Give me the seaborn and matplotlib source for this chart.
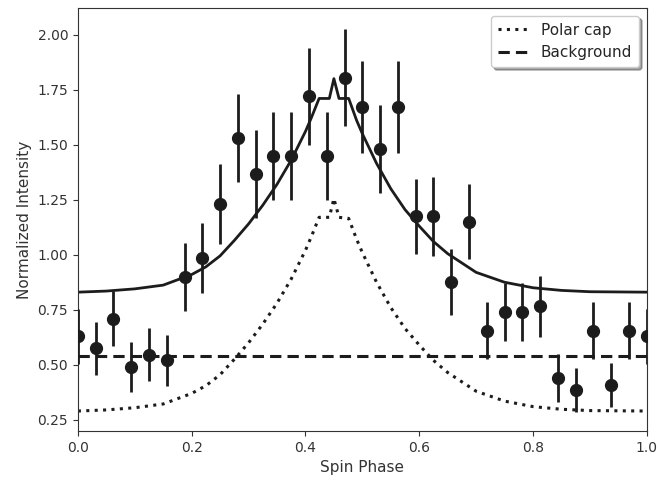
import numpy as np
import pandas as pd
import matplotlib
matplotlib.use("Agg")
import matplotlib.pyplot as plt
import seaborn as sns

# Observed data (spin phase bins)
phase = [0.0, 0.03125, 0.0625, 0.09375, 0.125, 0.15625, 0.1875, 0.21875,
         0.25, 0.28125, 0.3125, 0.34375, 0.375, 0.40625, 0.4375, 0.46875,
         0.5, 0.53125, 0.5625, 0.59375, 0.625, 0.65625, 0.6875, 0.71875,
         0.75, 0.78125, 0.8125, 0.84375, 0.875, 0.90625, 0.9375, 0.96875, 1.0]
intensity = [0.63, 0.575, 0.71, 0.49, 0.545, 0.52, 0.90, 0.985,
             1.23, 1.53, 1.365, 1.45, 1.45, 1.72, 1.45, 1.805,
             1.67, 1.48, 1.67, 1.175, 1.175, 0.875, 1.15, 0.655,
             0.74, 0.74, 0.765, 0.44, 0.385, 0.655, 0.41, 0.655, 0.63]
errors = [0.125, 0.12, 0.125, 0.115, 0.12, 0.115, 0.155, 0.16,
          0.18, 0.20, 0.20, 0.20, 0.20, 0.22, 0.20, 0.22,
          0.21, 0.20, 0.21, 0.17, 0.18, 0.15, 0.17, 0.13,
          0.13, 0.13, 0.14, 0.11, 0.10, 0.13, 0.10, 0.13, 0.125]

# Model curves
model_phase = [0.0, 0.05, 0.1, 0.15, 0.2, 0.225, 0.25, 0.275, 0.3, 0.325,
               0.35, 0.375, 0.4, 0.41, 0.424, 0.442, 0.45, 0.459, 0.476,
               0.49, 0.5, 0.525, 0.55, 0.575, 0.6, 0.625, 0.65, 0.7, 0.75,
               0.8, 0.85, 0.9, 1.0]
polar_cap = [0.29, 0.295, 0.305, 0.322, 0.37, 0.405, 0.455, 0.525, 0.60, 0.685,
             0.78, 0.89, 1.02, 1.08, 1.17, 1.17, 1.255, 1.17, 1.165,
             1.07, 1.01, 0.875, 0.76, 0.665, 0.59, 0.52, 0.465, 0.38, 0.335,
             0.31, 0.298, 0.292, 0.29]
total_model = [0.83, 0.835, 0.845, 0.862, 0.91, 0.945, 0.995, 1.065, 1.14, 1.225,
               1.32, 1.43, 1.56, 1.62, 1.71, 1.71, 1.80, 1.71, 1.71,
               1.61, 1.55, 1.415, 1.30, 1.205, 1.13, 1.06, 1.005, 0.92, 0.875,
               0.85, 0.838, 0.832, 0.83]
background_level = 0.54

sns.set_style("ticks")
plt.rcParams["font.family"] = ["DejaVu Sans"]

fig = plt.figure(figsize=(6.6, 4.83), dpi=100)
ax = fig.add_axes([0.118, 0.108, 0.862, 0.875])

dark = "#1c1c1c"
model_df = pd.DataFrame({"phase": model_phase, "cap": polar_cap, "total": total_model})
bg_df = pd.DataFrame({"phase": [0.0, 1.0], "bg": [background_level, background_level]})

sns.lineplot(data=model_df, x="phase", y="total", ax=ax, color=dark, lw=2.0,
             estimator=None, sort=False)
sns.lineplot(data=model_df, x="phase", y="cap", ax=ax, color=dark, lw=2.2,
             dashes=False, estimator=None, sort=False, label="Polar cap")
sns.lineplot(data=bg_df, x="phase", y="bg", ax=ax, color=dark, lw=2.2,
             estimator=None, label="Background")
lines = ax.get_lines()
lines[1].set_dashes((1.0, 1.75))
lines[2].set_dashes((3.7, 2.0))

ax.errorbar(phase, intensity, yerr=errors, fmt="o", color=dark, ms=8.5,
            elinewidth=2.0, capsize=0, zorder=5, clip_on=True)

ax.set_xlim(0.0, 1.0)
ax.set_ylim(0.2, 2.12)
ax.set_xticks([0.0, 0.2, 0.4, 0.6, 0.8, 1.0])
ax.set_yticks([0.25, 0.5, 0.75, 1.0, 1.25, 1.5, 1.75, 2.0])
ax.set_yticklabels(["0.25", "0.50", "0.75", "1.00", "1.25", "1.50", "1.75", "2.00"])
ax.tick_params(labelsize=10, colors="#333333")
ax.set_xlabel("Spin Phase", fontsize=11, color="#333333")
ax.set_ylabel("Normalized Intensity", fontsize=11, color="#333333")
for s in ax.spines.values():
    s.set_visible(True)
    s.set_color("#333333")

leg = ax.legend(loc="upper right", fontsize=11, frameon=True, shadow=True,
                fancybox=True, handlelength=2.0, borderpad=0.45,
                borderaxespad=0.5)
leg.get_frame().set_edgecolor("#cccccc")

fig.savefig("out.png", dpi=100)
